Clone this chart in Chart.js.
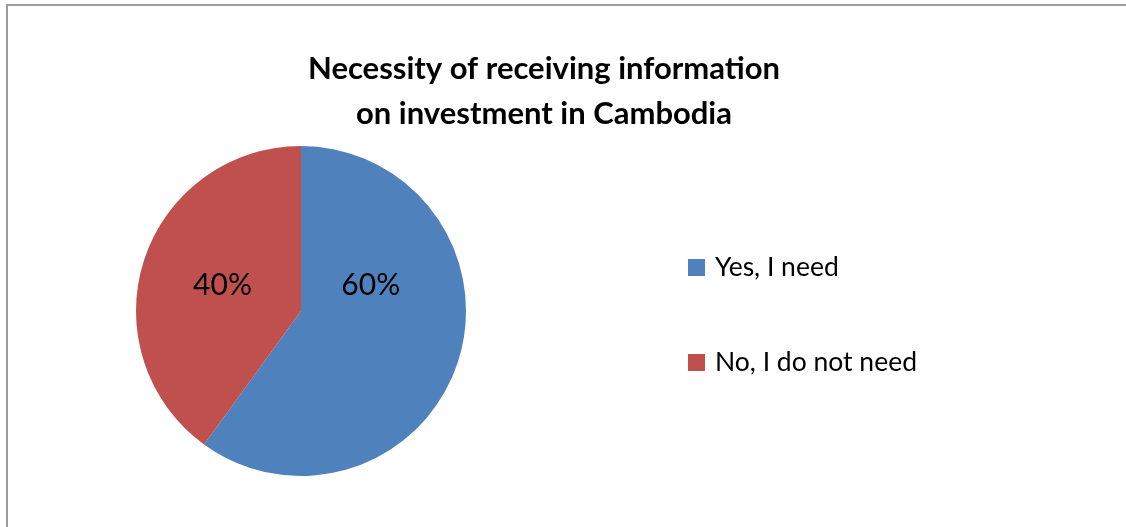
<!DOCTYPE html>
<html>
<head>
<meta charset="utf-8">
<script src="https://cdn.jsdelivr.net/npm/chart.js@4/dist/chart.umd.min.js"></script>
<style>
    html, body { margin: 0; padding: 0; background: #fff; overflow: hidden; }
    #frame {
        position: absolute; left: 6px; top: 4px;
        width: 1140px; height: 560px;
        border: 2px solid #9c9c9c;
    }
    #pieChart { position: absolute; left: 0; top: 0; }
</style>
</head>
<body>
<div id="frame"></div>
<canvas id="pieChart" width="1126" height="527"></canvas>
<script>
const categories = ['Yes, I need', 'No, I do not need'];
const shares = [60, 40]; // نسب الإجابات
const sliceColors = ['#4F81BD', '#C0504D'];
const titleLines = ['Necessity of receiving information', 'on investment in Cambodia'];

// العنوان والمفتاح ونسب الشرائح
const annotatePie = {
    id: 'annotatePie',
    afterDatasetsDraw(chart, args, opts) {
        const ctx = chart.ctx;
        const meta = chart.getDatasetMeta(0);
        ctx.save();
        ctx.fillStyle = '#000';

        // نسب داخل الشرائح
        ctx.font = opts.labelFont;
        ctx.textAlign = 'center';
        ctx.textBaseline = 'middle';
        meta.data.forEach((arc, i) => {
            const mid = (arc.startAngle + arc.endAngle) / 2 + opts.labelShift[i] * Math.PI / 180;
            const r = arc.outerRadius * opts.labelRadius[i];
            ctx.fillText(shares[i] + '%', arc.x + Math.cos(mid) * r, arc.y + Math.sin(mid) * r);
        });

        // العنوان
        ctx.font = opts.titleFont;
        ctx.textBaseline = 'alphabetic';
        titleLines.forEach((line, i) => {
            ctx.fillText(line, opts.titleX, opts.titleY + i * opts.titleGap);
        });

        // المفتاح
        ctx.textAlign = 'left';
        ctx.font = opts.legendFont;
        chart.data.labels.forEach((label, i) => {
            const y = opts.legendY + i * opts.legendGap;
            ctx.fillStyle = chart.data.datasets[0].backgroundColor[i];
            ctx.fillRect(opts.legendX, y - 17, 17, 17);
            ctx.fillStyle = '#000';
            ctx.fillText(label, opts.legendX + 27, y);
        });
        ctx.restore();
    }
};

const ctx = document.getElementById('pieChart').getContext('2d');
new Chart(ctx, {
    type: 'pie',
    data: {
        labels: categories,
        datasets: [{
            data: shares,
            backgroundColor: sliceColors,
            borderWidth: 0,
            hoverOffset: 0
        }]
    },
    options: {
        responsive: false,
        animation: false,
        devicePixelRatio: 1,
        layout: { padding: { left: 136, top: 146, right: 660, bottom: 51 } },
        plugins: {
            legend: { display: false },
            title: { display: false },
            tooltip: { enabled: false },
            annotatePie: {
                labelFont: '30px Lato',
                labelShift: [-38, 0],
                labelRadius: [0.45, 0.5],
                titleFont: 'bold 31px Lato',
                titleX: 544,
                titleY: 79,
                titleGap: 45,
                legendFont: '26.5px Lato',
                legendX: 688,
                legendY: 276,
                legendGap: 95
            }
        }
    },
    plugins: [annotatePie]
});
</script>
</body>
</html>
